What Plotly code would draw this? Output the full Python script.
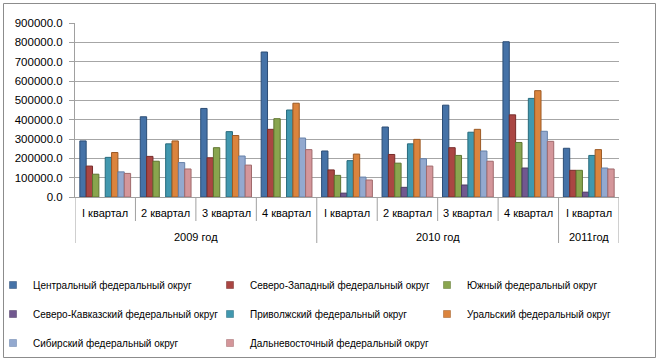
import plotly.graph_objects as go

years = ["2009 год"] * 4 + ["2010 год"] * 4 + ["2011год"]
quarters = ["I квартал", "2 квартал", "3 квартал", "4 квартал",
            "I квартал", "2 квартал", "3 квартал", "4 квартал", "I квартал"]

series_names = [
    "Центральный федеральный округ",
    "Северо-Западный федеральный округ",
    "Южный федеральный округ",
    "Северо-Кавказский федеральный округ",
    "Приволжский федеральный округ",
    "Уральский федеральный округ",
    "Сибирский федеральный округ",
    "Дальневосточный федеральный округ",
]

central = [290000, 415000, 458000, 750000, 238000, 362000, 475000, 803000, 252000]
northwest = [160000, 210000, 203000, 350000, 140000, 220000, 255000, 425000, 138000]
south = [118000, 185000, 255000, 405000, 112000, 175000, 215000, 282000, 138000]
ncaucasus = [None, None, None, None, 20000, 50000, 62000, 150000, 25000]
volga = [205000, 275000, 338000, 450000, 188000, 275000, 335000, 510000, 215000]
ural = [230000, 290000, 318000, 485000, 222000, 298000, 350000, 550000, 245000]
siberia = [130000, 178000, 212000, 305000, 103000, 198000, 238000, 340000, 150000]
fareast = [122000, 145000, 165000, 245000, 88000, 160000, 185000, 288000, 145000]

values = [central, northwest, south, ncaucasus, volga, ural, siberia, fareast]
colors = ["#4572A7", "#AA4643", "#89A54E", "#71588F",
          "#4198AF", "#DB843D", "#93A9CF", "#D4969A"]
edges = ["#2C4D75", "#772C2A", "#5F7530", "#4D3B62",
         "#276A7C", "#9C5A25", "#6580A8", "#A06A6C"]

# layout geometry (pixels)
W, H = 658, 362
L, R, T, B = 75, 39, 23, 165
PW, PH = W - L - R, H - T - B


def px_x(p):
    return (p - L) / PW


def px_y(p):
    return (H - B - p) / PH


FONT = "Liberation Sans, Arial, sans-serif"

fig = go.Figure()
legend_cfg = {}
legend_rows = [285, 314, 343]
legend_cols = [-7, 210, 427]
for k, (name, vals, c, e) in enumerate(zip(series_names, values, colors, edges)):
    lname = "legend" if k == 0 else f"legend{k + 1}"
    fig.add_trace(go.Bar(
        x=[years, quarters], y=vals, name=name,
        marker=dict(color=c, line=dict(color=e, width=1)),
        showlegend=False, legendgroup=name,
    ))
    # small square legend key for the series
    fig.add_trace(go.Scatter(
        x=[None], y=[None], mode="markers", name=name,
        marker=dict(symbol="square", size=7, color=c, line=dict(color=e, width=0.5)),
        legend=lname, legendgroup=name, hoverinfo="skip",
    ))
    legend_cfg[lname] = dict(
        orientation="v", x=px_x(legend_cols[k % 3]), xanchor="left",
        y=px_y(legend_rows[k // 3]), yanchor="middle",
        font=dict(family=FONT, size=10, color="#000000"),
        bgcolor="rgba(0,0,0,0)", borderwidth=0,
    )

shapes = []
annotations = []
# category dividers and labels
year_bounds = {0, 4, 8, 9}
for i in range(len(quarters) + 1):
    bottom = 243 if i in year_bounds else 221
    shapes.append(dict(type="line", xref="x", yref="paper",
                       x0=i - 0.5, x1=i - 0.5, y0=0, y1=px_y(bottom),
                       line=dict(color="#A0A0A0", width=1)))
for i, q in enumerate(quarters):
    annotations.append(dict(text=q, xref="x", yref="paper", x=i, y=px_y(213),
                            showarrow=False, yanchor="middle",
                            font=dict(family=FONT, size=11, color="#000000")))
ylist = []
for y in years:
    if y not in ylist:
        ylist.append(y)
for y in ylist:
    idx = [i for i, v in enumerate(years) if v == y]
    annotations.append(dict(text=y, xref="x", yref="paper",
                            x=(idx[0] + idx[-1]) / 2, y=px_y(237),
                            showarrow=False, yanchor="middle",
                            font=dict(family=FONT, size=11, color="#000000")))

# outer chart border
shapes.append(dict(type="rect", xref="paper", yref="paper",
                   x0=px_x(3.5), x1=px_x(655.5), y0=px_y(357.5), y1=px_y(3.5),
                   line=dict(color="#8C8C8C", width=1), fillcolor="rgba(0,0,0,0)",
                   layer="below"))

fig.update_layout(
    width=W, height=H,
    margin=dict(l=L, r=R, t=T, b=B, autoexpand=False),
    paper_bgcolor="white", plot_bgcolor="white",
    barmode="group", bargap=0.16, bargroupgap=0,
    font=dict(family=FONT, size=11, color="#000000"),
    showlegend=True,
    xaxis=dict(
        type="multicategory",
        showline=True, linecolor="#A0A0A0", linewidth=1,
        showticklabels=False, ticks="", showdividers=False,
        range=[-0.5, 8.5],
    ),
    yaxis=dict(
        range=[0, 900000], dtick=100000, tickformat=".1f",
        showgrid=True, gridcolor="#A6A6A6", gridwidth=1,
        showline=True, linecolor="#A0A0A0", linewidth=1,
        ticks="outside", ticklen=5, tickcolor="#A0A0A0",
        ticklabelstandoff=4,
        tickfont=dict(family=FONT, size=11.5, color="#000000"),
        zeroline=False,
    ),
    shapes=shapes,
    annotations=annotations,
    **legend_cfg,
)

fig.write_html("out.html", config={"displayModeBar": False},
               post_script="document.body.style.margin='0';")
